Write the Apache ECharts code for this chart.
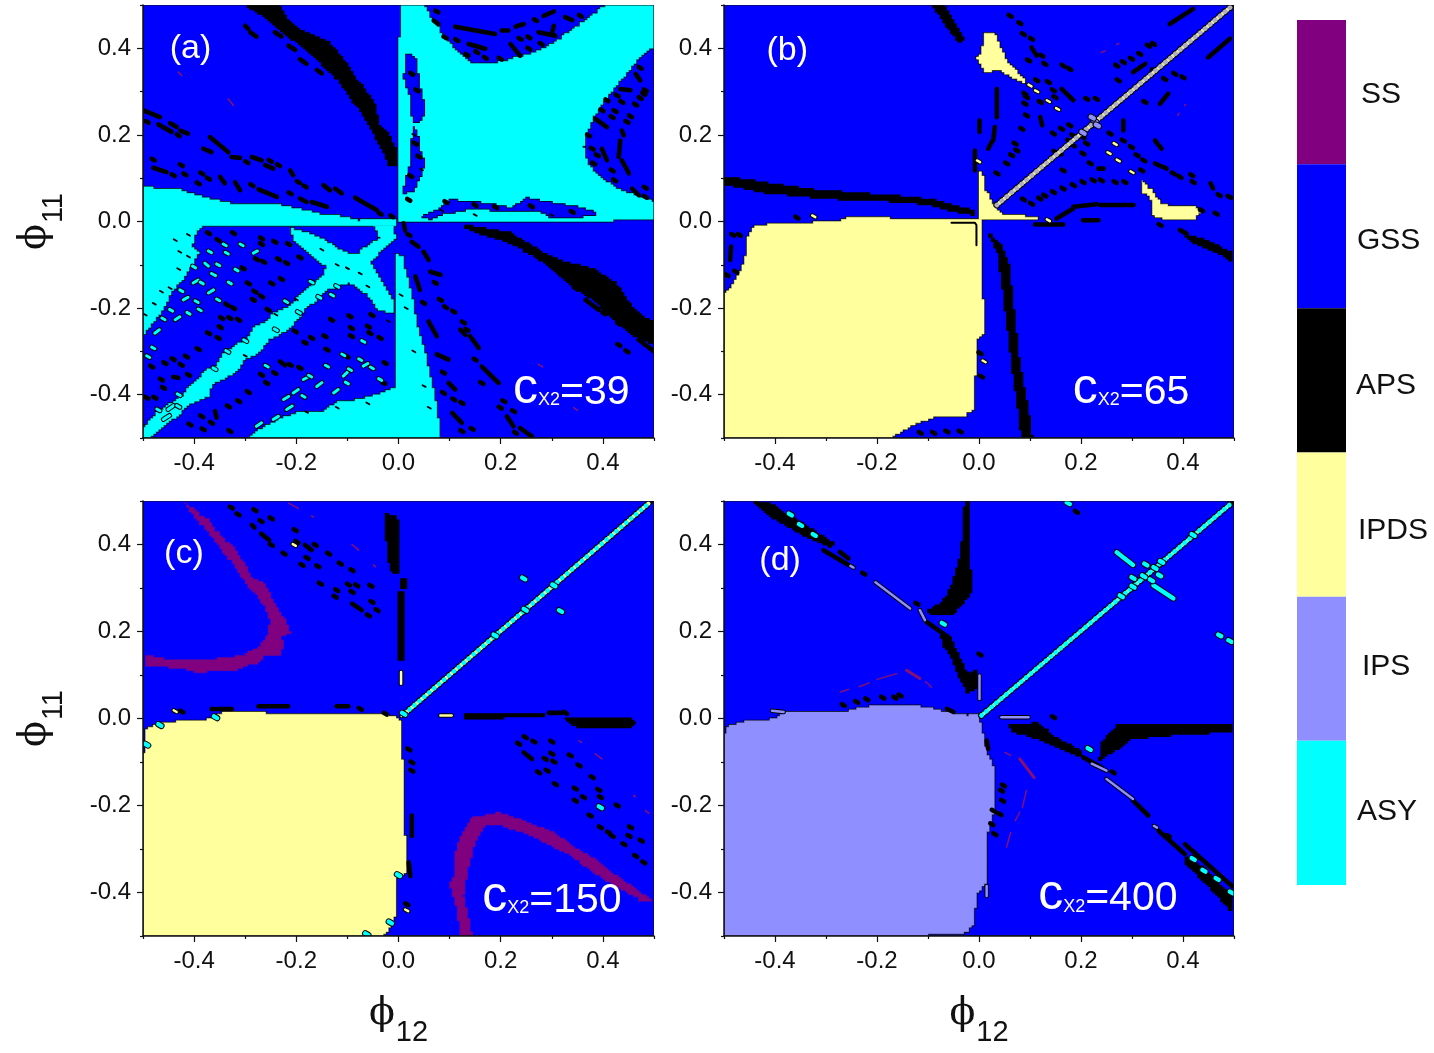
<!DOCTYPE html>
<html>
<head>
<meta charset="utf-8">
<title>Phase diagrams in the phi12 / phi11 plane</title>
<script src="https://cdn.jsdelivr.net/npm/echarts@6/dist/echarts.min.js"></script>
<style>html,body{margin:0;padding:0;background:#fff}#chart{width:1434px;height:1053px}</style>
</head>
<body>
<div id="chart"></div>
<script>
// Coordinates below are phi12,phi11 pairs in thousandths.
const PHI_UNIT = 1000;

const stateNames = ['SS', 'GSS', 'APS', 'IPDS', 'IPS', 'ASY'];
const stateColors = ['#800080', '#0000ff', '#000000', '#ffff9e', '#8f8fff', '#00ffff'];
const majorTicks = [-0.4, -0.2, 0, 0.2, 0.4];
const minorTicks = [-0.5, -0.3, -0.1, 0.1, 0.3, 0.5];
const wholeMap = [[-500, -500, 500, -500, 500, 500, -500, 500]];

// Panel (a), c_X2 = 39
const asyRegionsA = [
  [0,0,-1,425,7,429,7,500,49,500,62,472,78,445,91,418,111,395,137,368,167,364,196,368,222,376,255,387,287,402,313,422,340,445,366,464,392,491,405,500,500,500,500,402,480,387,457,356,431,318,405,280,382,241,369,203,362,172,369,134,392,103,418,80,451,65,500,45,500,3,424,7,421,0],
  [-500,80,-457,74,-441,76,-408,65,-369,51,-323,41,-251,41,-199,30,-160,18,-108,11,-82,2,-30,5,-5,5,-5,-8,-379,-8,-395,-23,-405,-58,-392,-73,-415,-127,-441,-158,-460,-204,-470,-219,-486,-246,-500,-265],
  [-500,-473,-473,-440,-441,-415,-420,-400,-408,-378,-379,-345,-360,-335,-345,-305,-320,-285,-300,-275,-280,-240,-262,-235,-245,-212,-212,-195,-195,-170,-180,-155,-147,-120,-134,-81,-108,-96,-82,-73,-36,-35,-49,-8,-10,-12,-7,-42,-55,-96,-36,-135,-10,-188,-10,-211,-36,-204,-69,-158,-95,-142,-140,-158,-165,-190,-180,-196,-195,-225,-215,-250,-250,-272,-270,-302,-300,-320,-320,-352,-350,-368,-362,-373,-372,-405,-400,-418,-441,-457,-486,-500,-500,-500],
  [-209,-16,-186,-25,-147,-45,-108,-70,-110,-120,-127,-115,-147,-98,-180,-65,-206,-39],
  [-140,-81,-108,-70,-69,-85,-49,-127,-75,-142,-114,-135,-140,-120],
  [-297,-500,-251,-465,-219,-450,-193,-438,-147,-438,-121,-417,-75,-411,-36,-396,-7,-381,-7,-73,7,-81,13,-112,23,-158,33,-219,39,-258,52,-304,62,-358,75,-434,82,-500]
];
const gssHolesA = [
  [16,387,33,372,39,326,52,249,42,230,29,230,26,264,23,295,13,329,8,332,16,356],
  [29,222,39,187,43,149,51,134,42,103,29,72,10,65,18,111,25,141,27,187],
  [46,11,78,30,98,49,144,45,183,38,222,30,248,53,287,45,340,34,379,22,385,15,333,9,300,11,281,25,222,25,176,28,137,28,91,18,65,7]
];
const apsBandsA = [
  [-297,500,-235,500,-219,464,-199,445,-140,414,-108,372,-88,337,-69,303,-46,264,-39,218,-23,203,-3,153,-7,130,-16,130,-23,149,-39,187,-56,226,-82,272,-108,314,-127,341,-160,379,-199,418,-232,445,-264,479],
  [131,-10,215,-27,268,-66,320,-93,379,-112,424,-146,464,-212,500,-235,500,-281,464,-265,424,-227,379,-177,340,-146,307,-112,261,-73,215,-46,176,-31,144,-20]
];
const apsDashesA = [
  [69,464,78,456],[111,450,189,433],[202,441,215,441],[229,450,245,456],[284,475,304,485],[326,472,340,465],[137,410,170,399],[219,410,238,383],[274,437,307,429],[304,452,300,433],
  [75,485],[91,425],[114,419],[134,385],[153,391],[170,378],[199,376],[238,422],[255,425],[255,399],[279,410],[268,465],[356,475],
  [464,341,473,326],[434,306,454,303],[385,237,408,218],[437,210,441,199],[434,187,431,149],[398,168,408,141],[437,141,451,111],[457,76,470,61],
  [473,355],[483,303],[480,295],[473,285],[464,270],[428,291],[437,276],[408,280],[398,257],[424,255],[418,241],[454,243],[447,230],[372,199],[379,168],[389,153],[382,134],[418,118],[423,95],[483,78],[483,57],
  [36,303],[26,341],[33,180],[40,150],[24,105],[20,50],[93,45],[150,38],[190,33],[260,35],[340,22],
  [-300,452,-294,445],[-290,437,-278,427],[-242,437,-229,427],[-215,406,-202,396],[-193,375,-180,364],[-160,350,-150,342],[-498,256,-467,241],[-492,230],[-470,224,-444,207],[-447,227,-434,218],[-431,199],[-427,210,-412,203],[-369,195,-333,160],[-382,168,-366,160],[-327,149,-310,147],[-297,137],[-287,149,-268,141],[-261,130,-245,122],[-251,140],[-235,130],[-212,118,-206,107],[-196,91],[-183,81],[-147,84,-134,72],[-124,76,-111,65],[-212,65],[-193,53,-180,45],[-170,45,-140,34],[-85,55,-42,26],[-36,18],[-13,12],[-480,143],[-480,124,-454,114],[-441,107],[-425,130],[-418,109],[-385,111],[-372,99],[-392,88],[-349,103,-340,88],[-320,91,-310,72],[-287,84],[-274,74,-238,57],
  [-372,-27],[-353,-43],[-323,-27],[-268,-39],[-242,-47],[-215,-52],[-268,-52],[-193,-83],[-235,-87],[-219,-96],[-264,-93],[-278,-87],[-304,-108],[-229,-133],[-294,-143],[-248,-143],[-281,-162],[-268,-173],[-284,-181],[-323,-200],[-336,-192],[-346,-223],[-330,-223],[-313,-227],[-349,-244],[-255,-204],[-372,-258],[-353,-269],[-392,-295],[-441,-318],[-457,-327],[-415,-312],[-425,-331],[-483,-335],[-441,-359,-431,-361],[-464,-365],[-411,-354],[-460,-384],[-477,-407],[-493,-407],[-359,-438,-356,-453],[-385,-450],[-408,-469],[-382,-480],[-366,-465],[-333,-427],[-313,-415],[-330,-484],[-294,-394],[-268,-354],[-242,-350],[-258,-373],[-232,-323,-222,-332],[-212,-331],[-193,-338],[-140,-296],[-170,-269],[-183,-280],[-202,-254],[-131,-227],[-95,-219],[-52,-216],[-92,-265],[-92,-246],[-36,-269],[-56,-258],[-59,-243],[-26,-327],[-101,-312],[-29,-373],[-144,-265],
  [10,-4,13,-20],[20,-31],[26,-47,39,-58],[49,-70,59,-89],[62,-116,82,-123],[33,-127,42,-158],[72,-142],[49,-188],[82,-181],[92,-198],[108,-208],[127,-233],[134,-250],[59,-231,75,-265],[121,-250,131,-262],[140,-265,157,-292],[150,-319],[75,-307,98,-319],[88,-349],[163,-335,196,-373],[163,-373],[98,-373,111,-388],[88,-396],[108,-411],[124,-419],[105,-442,124,-465],[124,-484],[144,-479],[206,-415],[199,-430],[212,-450,225,-473],[238,-477,261,-496],[229,-488],[225,-438],[346,-154],[366,-181,392,-204],[402,-212],[431,-236],[431,-285],[447,-300],[470,-273,500,-300]
];
const apsGrainsA = [
  [-411,-31],[-428,-70],[-437,-43],[-411,-81],[-464,-162],[-447,-154],[-496,-215],[-478,-190],[-430,-110],
  [-150,-65],[-120,-100],[-100,-108],[-75,-120],[-60,-150],[-200,-180],[-240,-215],[-300,-310],[-20,-230],[-180,-440],[-120,-430],[-60,-420],
  [5,-170],[15,-200],[30,-300],[50,-380],[60,-430],[30,200],[45,120],[300,15],[150,15],[85,25]
];
const asySpecksA = [
  [-369,-70],[-336,-73],[-379,-96,-372,-103],[-353,-100],[-366,-120,-358,-125],[-317,-112],[-402,-142,-392,-135],[-385,-142],[-330,-142],[-372,-165,-362,-158],[-353,-181],[-421,-181,-412,-175],[-411,-212],[-437,-227,-428,-220],[-389,-204],[-477,-258,-468,-250],[-480,-292],[-490,-312],[-451,-434,-440,-425],[-431,-427],[-460,-457,-448,-448],[-307,-54],[-284,-73,-276,-68],[-340,-54],
  [-186,-365,-175,-358],[-173,-357],[-206,-396,-196,-388],[-225,-411,-215,-404],[-219,-434,-208,-426],[-245,-457,-235,-450],[-278,-473,-268,-465],[-186,-404],[-160,-381,-150,-372],[-140,-334],[-108,-357,-100,-348],[-95,-342],[-69,-334,-60,-328],[-52,-338],[-108,-308],[-75,-319],[-36,-365],[-127,-396,-118,-388],[-101,-373],[-258,-334],[-69,-277],
  [-335,-300],[-300,-275],[-360,-340],[-430,-400],[-470,-435],[-220,-185],[-195,-210],[-170,-140],[-155,-175],[-130,-170],[-120,-150],[-240,-250],[-460,-225],[-445,-205],[-425,-160],[-400,-105],[-395,-185]
];
const ssTracesA = [[-431,345,-424,337],[-333,283,-323,268],[274,-330,282,-336],[343,-430,350,-436]];

// Panel (b), c_X2 = 65
const ipdsRegionsB = [
  [-500,-166,-485,-151,-465,-104,-458,-81,-452,-28,-442,-12,-403,-5,-279,-1,-259,9,-181,9,-174,5,3,3,3,-181,8,-181,8,-262,-5,-277,-5,-354,-11,-358,-11,-435,-27,-450,-83,-452,-122,-465,-155,-488,-168,-500,-500,-500],
  [2,114,8,103,12,72,22,49,41,18,113,9,113,3,2,3],
  [12,435,28,437,38,411,54,372,84,329,92,321,73,329,41,352,15,344,5,359,-3,382,5,390],
  [319,95,342,64,358,38,420,35,436,18,423,5,374,3,338,15,342,49,319,72]
];
const apsBandsB = [
  [-500,99,-467,97,-421,88,-325,72,-233,64,-148,57,-96,49,-63,41,-50,34,-11,25,-11,17,-50,25,-89,38,-148,47,-233,49,-325,57,-421,68,-467,80,-500,87],
  [22,-28,31,-58,38,-74,44,-127,54,-219,60,-280,67,-349,74,-403,80,-457,84,-500,103,-500,99,-453,86,-376,76,-300,70,-230,63,-154,57,-97,45,-62,37,-43],
  [-89,498,-73,498,-53,464,-30,422,-37,414,-63,453],
  [407,-31,439,-43,496,-74,496,-88,459,-66,413,-41]
];
const apsDashesB = [
  [394,-20,407,-28],[355,-8],[35,306,35,241],[1,233,1,207],[31,218,28,187],[25,184,18,168],[-8,164,-8,118],
  [237,38,303,38],[204,3,234,3],[110,-7,165,-7],[152,7,185,30],[185,34,230,40],
  [119,53],[129,60],[146,68],[165,76],[185,84],[204,91],[224,95],[240,95],[267,91],[286,91],[87,51],[103,41],
  [54,134],[64,153],[74,164],[71,180],[84,214],[93,245],[90,272],[93,287],[120,241,124,222],[146,203],[162,214],[178,222],[184,199],[149,161],[159,157],[176,187],[204,195],[211,180],[185,176],[204,157],[218,134],[234,122,244,122],[165,118],[35,111],
  [61,475],[80,458],[87,433],[103,422],[103,402,113,383],[123,383],[97,372],[129,364],[178,352],[165,360],[113,326],[136,322],[162,306,185,280],[90,295],[146,303],[149,287],[120,276],[211,283],[230,283],[283,233,283,210],[257,203],[299,172],[283,187],[345,187,358,168],[310,153],[323,141],[319,118],[345,134,368,122],[381,111],[394,103],[417,107],[420,91],[454,88,459,76],[471,61],[491,57],[436,26],[465,18],
  [270,360],[283,368],[299,376],[315,387],[332,406],[342,410],[273,326],[302,345,326,364],[342,349],[364,329],[384,341],[400,333],[355,272,371,295],[325,276],[374,456,420,491],[449,379,492,422],
  [-357,9],[-486,-58,-488,-89],[-483,-31],[-470,-31],[-477,-116],[-494,-124],[-89,-488],[-63,-485],[-37,-485],[5,-358],[2,-304],[-115,-488]
];
const apsHairlinesB = [[-54,-3,-8,-3,-5,-8,-5,-55]];
const ipdsSpecksB = [[100,314],[113,301],[136,278],[154,260],[255,158],[273,141],[300,114],[267,179],[136,3],[10,-323],[-324,12],[-1,139]];
const ipsSpecksB = [[227,232],[204,205],[222,240],[232,222]];
const diagonalB = [[35,38,496,498]];
const ssTracesB = [[240,391,248,394],[270,409,274,411],[390,245,392,250],[403,268,405,270]];

// Panel (c), c_X2 = 150
const ipdsRegionsC = [
  [-498,-500,-498,-85,-493,-24,-470,-10,-372,-2,-359,7,-346,15,-268,15,-261,11,-72,9,-7,7,3,-8,5,-93,10,-101,10,-270,14,-273,14,-354,-3,-369,-7,-454,-20,-492,-29,-500]
];
const ssRegionsC = [
  [-418,497,-392,468,-375,460,-346,414,-325,395,-300,353,-287,322,-262,310,-242,260,-222,226,-212,195,-229,187,-225,164,-232,144,-264,145,-268,130,-294,122,-325,108,-359,111,-385,104,-418,114,-450,118,-496,122,-496,145,-444,134,-379,134,-307,145,-271,168,-258,191,-251,226,-261,260,-294,306,-333,372,-372,429,-405,475],
  [121,-500,115,-440,100,-380,108,-362,112,-305,121,-270,144,-227,170,-222,196,-216,225,-228,261,-243,300,-262,333,-289,375,-318,411,-350,450,-382,493,-419,477,-419,411,-373,333,-312,255,-266,196,-243,170,-247,150,-285,137,-346,127,-408,144,-500]
];
const apsBandsC = [
  [-23,468,-10,464,0,445,0,337,-10,337,-20,368,-23,422],
  [0,291,11,291,11,134,0,134],
  [5,322,16,322,16,299,5,299],
  [131,11,287,11,287,3,131,2],
  [327,1,444,1,464,-12,457,-22,353,-20]
];
const apsDashesC = [
  [294,13,320,13],[327,13],[-424,16],[-366,22,-326,22],[-274,28,-216,28],[-121,28,-98,28],[-75,22],[-26,11],
  [-327,485],[-314,469],[-281,479],[-269,454],[-249,460],[-287,445,-282,439],[-269,425,-253,410],[-249,399],[-202,433],[-199,406],[-183,399,-170,387],[-163,399],[-224,379],[-179,369],[-137,379],[-189,353],[-158,350],[-114,356],[-91,341],[-153,310],[-121,295],[-124,280],[-98,308],[-82,306],[-91,291],[-54,305],[-91,264,-72,249],[-52,268],[-42,249],[-59,237],
  [248,-43],[265,-53],[235,-58],[300,-53],[245,-78,261,-93],[287,-93],[300,-81],[304,-99],[336,-85],[353,-108],[379,-135],[274,-124],[291,-120],[307,-151],[346,-161],[392,-164],[395,-181],[346,-189],[362,-181],[428,-200],[375,-223],[395,-250],[411,-262],[418,-270],[454,-250],[451,-270],[441,-289],[475,-281],[464,-316],[480,-331],
  [20,-71],[26,-101],[26,-120],[26,-223,26,-270],[20,-331,23,-362],[16,-427]
];
const ipdsSpecksC = [[5,107,5,80],[82,7,104,7],[-437,17],[-204,399],[16,-441],[6,6,8,10]];
const asySpecksC = [[-493,-60],[-467,-15],[-358,3],[0,-360],[-16,-469],[-62,-496],[10,11],[395,-204],[189,191],[248,250],[304,306],[245,322],[317,247]];
const diagonalC = [[12,11,493,498]];
const ssTracesC = [[-215,495,-196,483],[-170,466,-166,463],[-91,400,-78,387],[-49,353,-45,349],[353,-51,358,-55],[385,-81,398,-93],[460,-177,464,-180],[483,-212,490,-218]];

// Panel (d), c_X2 = 400
const ipsRegionsD = [
  [-500,-500,-500,-39,-491,-16,-455,-6,-403,-2,-387,15,-266,16,-214,28,-122,28,-63,15,-24,7,-1,11,5,-24,15,-78,28,-116,29,-216,15,-270,15,-381,-5,-404,-11,-477,-21,-492,-103,-498,-112,-500]
];
const apsBandsD = [
  [-27,498,-19,498,-19,360,-14,292,-50,242,-96,239,-99,249,-70,268,-50,315,-34,384,-29,453],
  [237,-93,240,-54,272,-16,496,-17,496,-30,355,-39,302,-47,259,-78,240,-93],
  [-439,498,-416,495,-350,449,-285,399,-291,396,-330,415,-379,449,-422,479],
  [-73,191,-57,184,-37,130,-21,99,-5,111,-5,69,-21,61,-34,88,-50,134,-70,172],
  [61,-16,110,-12,146,-43,198,-78,198,-85,146,-58,100,-39,67,-28],
  [404,-319,439,-346,496,-415,496,-438,453,-385,407,-330]
];
const apsDashesD = [
  [-305,387,-256,353],[-273,383,-256,368],[-226,333],[-122,264],[-103,222,-57,184],[2,147],[146,3],[204,-89,240,-112],[263,-124],[302,-189,332,-223],[352,-258,404,-312],[371,-270],[404,-289,496,-385],[191,475],
  [-266,31],[-240,38],[-220,44],[-189,48],[-165,48],[-155,53],[-63,22,-50,15],[48,-154],[44,-166],[46,-189],[41,-220],[25,-243],[31,-266],[28,-212],[15,-51,18,-70]
];
const ipsSpecksD = [[-406,18,-383,15],[15,-385,15,-408],[-249,349],[-203,313,-135,253],[-116,249,-106,226],[1,99,1,45],[44,3,97,3],[221,-104,250,-120],[250,-139,302,-185],[346,-249]];
const asySpecksD = [[-370,469],[-350,445],[-323,422],[-70,218],[216,-70],[420,-323],[441,-350],[467,-369],[495,-400],[175,495],[472,191],[492,178],[270,382,302,353],[342,306,381,276],[338,318],[327,354],[354,329],[302,323],[279,281],[302,303],[323,327],[345,346],[358,360],[420,422]];
const diagonalD = [[5,7,495,495]];
const ssTracesD = [[-272,61,-255,67],[-235,73,-215,82],[-200,90,-161,103],[-105,85,-93,72],[51,-78,62,-85],[93,-165,85,-205],[80,-215,71,-235],[62,-262,54,-296]];
const ssBlotsD = [[-142,111,-116,92],[80,-93,108,-136]];

const panelTags = ['(a)', '(b)', '(c)', '(d)'];
const panelCx2 = ['39', '65', '150', '400'];

// Layout of the panels and of the text inside them.
const panelBoxes = [
  {left: 143, top: 5, width: 511, height: 433},
  {left: 724, top: 5, width: 510, height: 433},
  {left: 143, top: 501, width: 511, height: 435},
  {left: 724, top: 501, width: 510, height: 435}
];
const tagAnchors = [[-0.407, 0.4], [-0.376, 0.395], [-0.42, 0.379], [-0.39, 0.363]];
const cx2Anchors = [[0.224, -0.388], [0.184, -0.388], [0.164, -0.411], [0.116, -0.407]];
const legendLabelShift = [[15, 3], [11, 4], [10, 5], [12, 6], [16, -2], [11, -1]];

const SANS = '"Liberation Sans", Arial, sans-serif';
const CELL = 5; // raster step of the phase map, in thousandths

const snap = v => Math.round(v / CELL) * CELL;

// Turns an outline into the staircase a raster map of states produces.
function staircase(flat) {
  const out = [];
  const n = flat.length / 2;
  for (let i = 0; i < n; i++) {
    const ax = flat[2 * i], ay = flat[2 * i + 1];
    const bx = flat[(2 * i + 2) % flat.length], by = flat[(2 * i + 3) % flat.length];
    const steps = Math.max(1, Math.ceil(Math.max(Math.abs(bx - ax), Math.abs(by - ay)) / CELL));
    let px = snap(ax), py = snap(ay);
    out.push(px, py);
    for (let k = 1; k <= steps; k++) {
      const nx = snap(ax + (bx - ax) * k / steps), ny = snap(ay + (by - ay) * k / steps);
      if (nx !== px) { out.push(nx, py); px = nx; }
      if (ny !== py) { out.push(px, ny); py = ny; }
    }
  }
  return out;
}

function toPixels(api, flat) {
  const pts = [];
  for (let i = 0; i < flat.length; i += 2) {
    pts.push(api.coord([flat[i] / PHI_UNIT, flat[i + 1] / PHI_UNIT]));
  }
  return pts;
}

function customOn(panel, items, renderOne) {
  return {
    type: 'custom', xAxisIndex: panel, yAxisIndex: panel, clip: true, silent: true,
    animation: false, coordinateSystem: 'cartesian2d',
    data: items.map((_, i) => [i]),
    renderItem: (params, api) => renderOne(items[params.dataIndex], api)
  };
}

function fillLayer(panel, polys, color) {
  return customOn(panel, polys, (flat, api) => ({
    type: 'polygon',
    shape: {points: toPixels(api, staircase(flat))},
    style: {fill: color, stroke: color, lineWidth: 0.5}
  }));
}

// The contour goes down first so that overlapping pieces of one state merge.
function contouredLayers(panel, polys, color) {
  const contour = customOn(panel, polys, (flat, api) => ({
    type: 'polygon',
    shape: {points: toPixels(api, staircase(flat))},
    style: {fill: '#000', stroke: '#000', lineWidth: 2}
  }));
  return [contour, fillLayer(panel, polys, color)];
}

function strokeLayer(panel, list, color, width, casing) {
  return customOn(panel, list, (item, api) => {
    const flat = item.length === 2 ? [item[0] - 3, item[1] + 2, item[0] + 3, item[1] - 2] : item;
    const points = toPixels(api, flat);
    const line = (stroke, lineWidth) => ({
      type: 'polyline', shape: {points},
      style: {stroke, lineWidth, fill: null, lineCap: 'round', lineJoin: 'round'}
    });
    return casing ? {type: 'group', children: [line('#000', width + 2), line(color, width)]} : line(color, width);
  });
}

function beadLayer(panel, list, base, bead) {
  return customOn(panel, list, (flat, api) => {
    const points = toPixels(api, flat);
    const line = (stroke, lineWidth, lineDash, lineDashOffset) => ({
      type: 'polyline', shape: {points},
      style: {stroke, lineWidth, lineDash, lineDashOffset, fill: null, lineCap: 'round'}
    });
    return {type: 'group', children: [
      line('#000', 5),
      line('#000', 7, [0.1, 6.4], 0),
      line(base, 4, [0.1, 6.4], 3.2),
      line(bead, 4.8, [0.1, 6.4], 0)
    ]};
  });
}

function textLayer(panel) {
  return customOn(panel, [0, 1], (which, api) => {
    if (which === 0) {
      const p = api.coord(tagAnchors[panel]);
      return {type: 'text', x: p[0], y: p[1], style: {
        text: panelTags[panel], fill: '#fff', font: '34px ' + SANS, align: 'center', verticalAlign: 'middle'
      }};
    }
    const p = api.coord(cx2Anchors[panel]);
    return {type: 'text', x: p[0], y: p[1], style: {
      text: '{c|c}{x|X2}{v|=' + panelCx2[panel] + '}',
      fill: '#fff', align: 'left', verticalAlign: 'middle',
      rich: {
        c: {fill: '#fff', fontSize: 50, fontFamily: SANS, lineHeight: 50, verticalAlign: 'bottom'},
        x: {fill: '#fff', fontSize: 18, fontFamily: SANS, lineHeight: 18, verticalAlign: 'bottom', padding: [0, 0, 5, 0]},
        v: {fill: '#fff', fontSize: 41, fontFamily: SANS, lineHeight: 41, verticalAlign: 'bottom', padding: [0, 0, 1, 0]}
      }
    }};
  });
}

function frameLayer(panel) {
  return customOn(panel, wholeMap, (flat, api) => ({
    type: 'polygon', shape: {points: toPixels(api, flat)},
    style: {fill: null, stroke: '#111', lineWidth: 1.2}
  }));
}

const series = [
  // (a)
  fillLayer(0, wholeMap, stateColors[1]),
  ...contouredLayers(0, asyRegionsA, stateColors[5]),
  ...contouredLayers(0, gssHolesA, stateColors[1]),
  ...contouredLayers(0, apsBandsA, stateColors[2]),
  strokeLayer(0, apsDashesA, stateColors[2], 4.6, false),
  strokeLayer(0, apsGrainsA, stateColors[2], 1.8, false),
  strokeLayer(0, asySpecksA, stateColors[5], 3, true),
  strokeLayer(0, ssTracesA, '#8a1070', 1.5, false),
  textLayer(0), frameLayer(0),
  // (b)
  fillLayer(1, wholeMap, stateColors[1]),
  ...contouredLayers(1, ipdsRegionsB, stateColors[3]),
  ...contouredLayers(1, apsBandsB, stateColors[2]),
  strokeLayer(1, apsDashesB, stateColors[2], 4.6, false),
  strokeLayer(1, apsHairlinesB, stateColors[2], 2, false),
  strokeLayer(1, ipdsSpecksB, stateColors[3], 2.5, true),
  beadLayer(1, diagonalB, '#e8e8a8', '#b0b0c0'),
  strokeLayer(1, ipsSpecksB, stateColors[4], 4.4, true),
  strokeLayer(1, ssTracesB, '#8a1070', 1.5, false),
  textLayer(1), frameLayer(1),
  // (c)
  fillLayer(2, wholeMap, stateColors[1]),
  ...contouredLayers(2, ipdsRegionsC, stateColors[3]),
  fillLayer(2, ssRegionsC, stateColors[0]),
  ...contouredLayers(2, apsBandsC, stateColors[2]),
  strokeLayer(2, apsDashesC, stateColors[2], 4.6, false),
  strokeLayer(2, ipdsSpecksC, stateColors[3], 2.5, true),
  beadLayer(2, diagonalC, '#e8ffa0', stateColors[5]),
  strokeLayer(2, asySpecksC, stateColors[5], 4.4, true),
  strokeLayer(2, ssTracesC, '#8a1070', 1.5, false),
  textLayer(2), frameLayer(2),
  // (d)
  fillLayer(3, wholeMap, stateColors[1]),
  ...contouredLayers(3, ipsRegionsD, stateColors[4]),
  ...contouredLayers(3, apsBandsD, stateColors[2]),
  strokeLayer(3, apsDashesD, stateColors[2], 4.6, false),
  strokeLayer(3, ipsSpecksD, stateColors[4], 2.5, true),
  beadLayer(3, diagonalD, '#70ffd8', stateColors[5]),
  strokeLayer(3, asySpecksD, stateColors[5], 4.4, true),
  strokeLayer(3, ssTracesD, '#8a1070', 1.4, false),
  strokeLayer(3, ssBlotsD, '#8a1070', 3, false),
  textLayer(3), frameLayer(3),
  // state key
  {
    type: 'bar', xAxisIndex: 8, yAxisIndex: 8, barWidth: '100%', silent: true, animation: false,
    data: stateNames.map((name, i) => ({
      value: 1,
      itemStyle: {color: stateColors[i]},
      label: {
        show: true, position: 'right', distance: 0, offset: legendLabelShift[i],
        formatter: name, color: '#111', fontSize: 30, fontFamily: SANS
      }
    }))
  }
];

const tickLabel = v => v.toFixed(1);
const phiName = sub => '{p|ϕ}{s|' + sub + '}';
const phiRich = {
  p: {fontSize: 38, fontFamily: '"DejaVu Serif", "Liberation Serif", serif', color: '#111', lineHeight: 44, padding: [0, 0, 12, 0]},
  s: {fontSize: 29, fontFamily: SANS, color: '#111', lineHeight: 44, padding: [26, 0, 0, 1]}
};

function primaryAxis(i, isX) {
  const named = isX ? i >= 2 : i % 2 === 0;
  return {
    type: 'value', gridIndex: i, min: -0.5, max: 0.5, position: isX ? 'bottom' : 'left', z: 5,
    axisLine: {show: true, onZero: false, lineStyle: {color: '#111', width: 1.5}},
    axisTick: {show: true, length: 6, customValues: majorTicks, lineStyle: {color: '#111', width: 1.2}},
    axisLabel: {
      show: true, customValues: majorTicks, formatter: tickLabel, margin: isX ? 13 : 12,
      fontSize: 24, fontFamily: SANS, color: '#111', showMinLabel: true, showMaxLabel: true
    },
    splitLine: {show: false},
    name: named ? phiName(isX ? '12' : '11') : '',
    nameLocation: 'middle', nameGap: isX ? 62 : 80, nameRotate: isX ? 0 : 90,
    nameTextStyle: {rich: phiRich}
  };
}

function minorAxis(i, isX) {
  return {
    type: 'value', gridIndex: i, min: -0.5, max: 0.5, position: isX ? 'bottom' : 'left', z: 5,
    axisLine: {show: false, onZero: false},
    axisTick: {show: true, length: 3, customValues: minorTicks, lineStyle: {color: '#111', width: 1.2}},
    axisLabel: {show: false},
    splitLine: {show: false}
  };
}

const keyAxisX = {type: 'value', gridIndex: 4, min: 0, max: 1, show: false};
const keyAxisY = {type: 'category', gridIndex: 4, inverse: true, data: stateNames, show: false};

const option = {
  backgroundColor: '#fff',
  animation: false,
  grid: panelBoxes.map(b => Object.assign({show: false}, b)).concat([{left: 1297, top: 20, width: 49, height: 865}]),
  xAxis: [0, 1, 2, 3].map(i => primaryAxis(i, true)).concat([0, 1, 2, 3].map(i => minorAxis(i, true)), [keyAxisX]),
  yAxis: [0, 1, 2, 3].map(i => primaryAxis(i, false)).concat([0, 1, 2, 3].map(i => minorAxis(i, false)), [keyAxisY]),
  series
};

echarts.init(document.getElementById('chart'), null, {renderer: 'canvas'}).setOption(option);
</script>
</body>
</html>
